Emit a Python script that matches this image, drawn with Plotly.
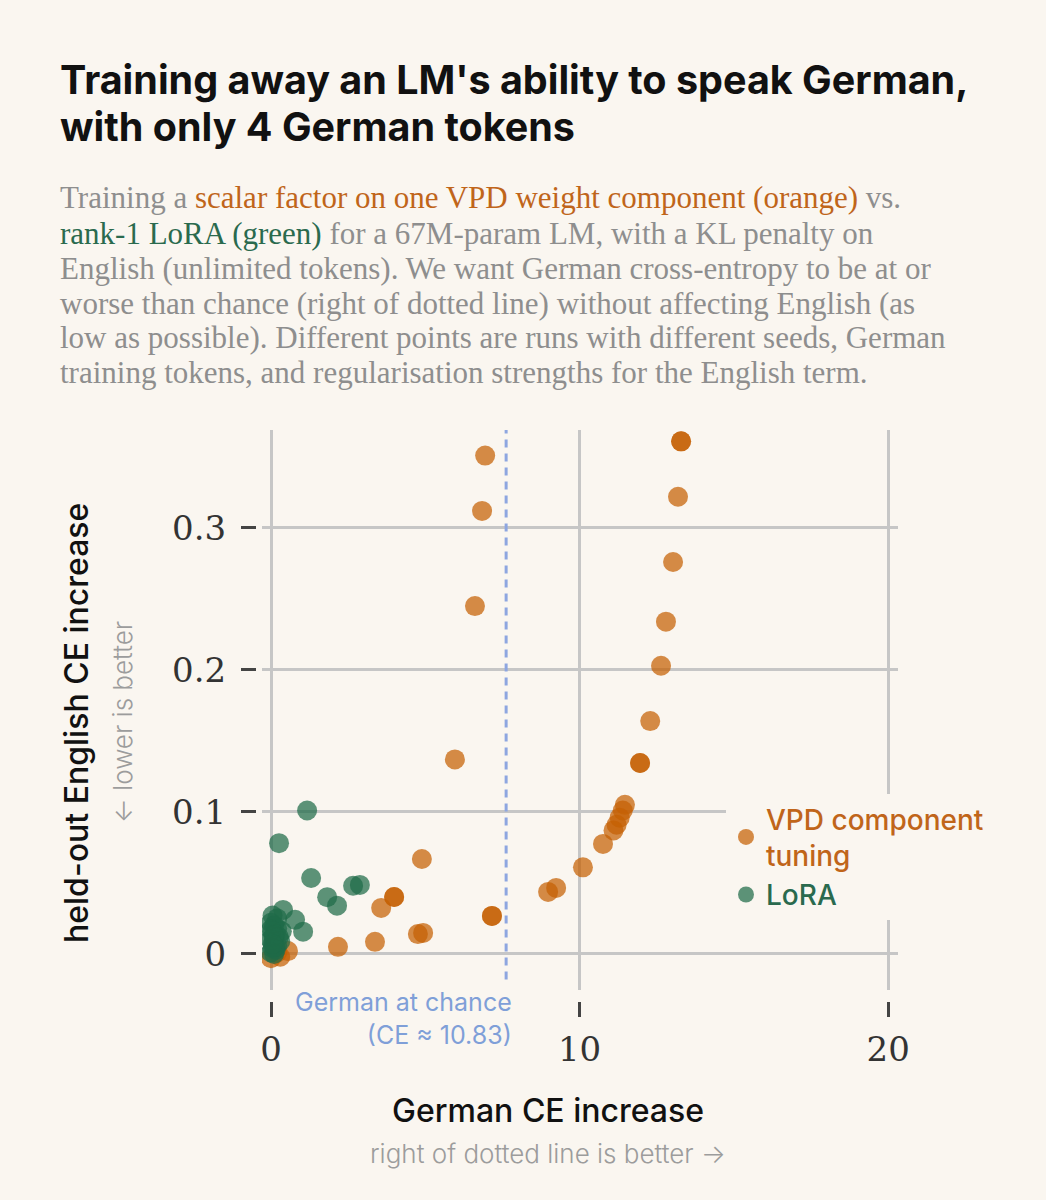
import plotly.graph_objects as go

# ---------------- data ----------------
vpd_x = [6.94, 6.84, 6.61, 5.96, 13.29, 13.29, 13.19, 13.03, 12.80, 12.64, 12.29, 11.96, 11.96,
         11.47, 11.40, 11.30, 11.20, 11.10, 10.76, 10.11, 9.24, 8.98,
         4.89, 3.99, 3.99, 3.57, 7.16, 7.16, 4.76, 4.93, 3.37, 2.17,
         0.0, 0.3, 0.55, 0.2]
vpd_y = [0.351, 0.312, 0.245, 0.137, 0.361, 0.361, 0.322, 0.276, 0.234, 0.203, 0.164, 0.1345, 0.1345,
         0.105, 0.101, 0.096, 0.091, 0.087, 0.0775, 0.061, 0.0465, 0.0437,
         0.0669, 0.0401, 0.0401, 0.0324, 0.0268, 0.0268, 0.014, 0.0148, 0.0085, 0.005,
         -0.003, -0.002, 0.002, 0.001]

lora_x = [1.17, 0.26, 1.30, 1.82, 2.14, 2.66, 2.88, 0.39, 0.78, 1.04, 0.05,
          0.0, 0.1, 0.2, 0.05, 0.15, 0.25, 0.0, 0.1, 0.2, 0.05, 0.15, 0.0, 0.1,
          0.3, 0.35, 0.2, 0.08, 0.12, 0.0, 0.1, 0.05]
lora_y = [0.101, 0.078, 0.0535, 0.040, 0.034, 0.048, 0.0486, 0.031, 0.024, 0.0157, 0.027,
          0.022, 0.020, 0.018, 0.016, 0.014, 0.012, 0.010, 0.008, 0.006, 0.004, 0.003, 0.001, 0.0,
          0.009, 0.016, 0.025, 0.012, 0.005, 0.017, 0.013, 0.007]

chance_x = 7.62          # German CE increase at which German CE reaches chance
chance_label = "German at chance<br>(CE ≈ 10.83)"

x_ticks = [0, 10, 20]
x_tick_text = ["0", "10", "20"]
y_ticks = [0, 0.1, 0.2, 0.3]
y_tick_text = ["0", "0.1", "0.2", "0.3"]

series_names = ["VPD component<br>tuning", "LoRA"]

title_lines = ["Training away an LM's ability to speak German,",
               "with only 4 German tokens"]

# ---------------- styling ----------------
W, H = 1046, 1200
BG = "#faf6f0"
ORANGE = "#c56003"
GREEN = "#1f6b48"
ORANGE_TXT = "#c0651a"
GREEN_TXT = "#2a6a4e"
GRAY_TXT = "#8e8e8e"
BLUE = "#8ea6e0"
GRID = "#c6c6c6"

ML, MR, MT, MB = 200, 148, 430, 150
PW = W - ML - MR
PH = H - MT - MB
PLOT_L, PLOT_B = 262, 990


def px(xp):
    return (xp - ML) / PW


def py(yp):
    return (H - MB - yp) / PH


x_range = [-0.292, 20.32]
y_range = [-0.0254, 0.369]

SANS = "Inter, Noto Sans, sans-serif"
SERIF = "Liberation Serif, serif"
TICKSERIF = "DejaVu Serif, serif"

fig = go.Figure()

fig.add_trace(go.Scatter(
    x=vpd_x, y=vpd_y, mode="markers",
    name=f"<span style='color:{ORANGE_TXT}'>{series_names[0]}</span>",
    marker=dict(size=20, color=ORANGE, opacity=0.72, line=dict(width=0)),
    hoverinfo="x+y"))
fig.add_trace(go.Scatter(
    x=lora_x, y=lora_y, mode="markers",
    name=f"<span style='color:{GREEN_TXT}'>{series_names[1]}</span>",
    marker=dict(size=20, color=GREEN, opacity=0.72, line=dict(width=0)),
    hoverinfo="x+y"))
# dummy trace to render the offset tick axes
fig.add_trace(go.Scatter(x=[], y=[], xaxis="x2", yaxis="y2", showlegend=False,
                         hoverinfo="skip"))

fig.add_shape(type="line", xref="x", yref="y", x0=chance_x, x1=chance_x,
              y0=-0.018, y1=0.369,
              line=dict(color=BLUE, width=3, dash="8px,6px"))

xdom = [(PLOT_L - ML) / PW, 1.0]
ydom = [(H - MB - PLOT_B) / PH, 1.0]

fig.update_layout(
    width=W, height=H,
    paper_bgcolor=BG, plot_bgcolor=BG,
    margin=dict(l=ML, r=MR, t=MT, b=MB),
    showlegend=True,
    xaxis=dict(domain=xdom, range=x_range, tickvals=x_ticks, showticklabels=False,
               showgrid=True, gridcolor=GRID, gridwidth=2.5, zeroline=False,
               showline=False, ticks=""),
    yaxis=dict(domain=ydom, range=y_range, tickvals=y_ticks, showticklabels=False,
               showgrid=True, gridcolor=GRID, gridwidth=2.5, zeroline=False,
               showline=False, ticks=""),
    xaxis2=dict(overlaying="x", anchor="free", position=py(1001), range=x_range,
                tickvals=x_ticks, ticktext=x_tick_text, ticks="outside", ticklen=15,
                tickwidth=2.5, tickcolor="#444", showgrid=False, zeroline=False,
                showline=False, ticklabelstandoff=3,
                tickfont=dict(family=TICKSERIF, size=34, color="#333")),
    yaxis2=dict(overlaying="y", anchor="free", position=px(256), side="left",
                range=y_range, tickvals=y_ticks, ticktext=y_tick_text,
                ticks="outside", ticklen=15, tickwidth=2.5, tickcolor="#444",
                showgrid=False, zeroline=False, showline=False, ticklabelstandoff=8,
                tickfont=dict(family=TICKSERIF, size=34, color="#333")),
    legend=dict(x=px(726), y=py(794), xanchor="left", yanchor="top",
                bgcolor=BG, borderwidth=0, itemsizing="trace",
                font=dict(family=SANS, size=28, weight=500),
                tracegroupgap=10, valign="middle"),
)

ann = []
# title
for t, yy in zip(title_lines, [80, 127]):
    ann.append(dict(text=t, x=px(58), y=py(yy), xanchor="left", yanchor="middle",
                    font=dict(family=SANS, size=39.5, color="#111", weight=700)))

sub_lines = [
    f"Training a <span style='color:{ORANGE_TXT}'>scalar factor on one VPD weight component (orange)</span> vs.",
    f"<span style='color:{GREEN_TXT}'>rank-1 LoRA (green)</span> for a 67M-param LM, with a KL penalty on",
    "English (unlimited tokens). We want German cross-entropy to be at or",
    "worse than chance (right of dotted line) without affecting English (as",
    "low as possible). Different points are runs with different seeds, German",
    "training tokens, and regularisation strengths for the English term.",
]
sub_y = [198, 233, 268, 303, 337, 372]
for t, yy in zip(sub_lines, sub_y):
    ann.append(dict(text=t, x=px(58), y=py(yy), xanchor="left", yanchor="middle",
                    font=dict(family=SERIF, size=31, color=GRAY_TXT)))

# axis titles
ann.append(dict(text="held-out English CE increase", x=px(76), y=py(723), textangle=-90,
                xanchor="center", yanchor="middle",
                font=dict(family=SANS, size=32, color="#111", weight=500)))
ann.append(dict(text="← lower is better", x=px(122), y=py(722), textangle=-90,
                xanchor="center", yanchor="middle",
                font=dict(family=SANS, size=26, color="#9c9c9c", weight=300)))
ann.append(dict(text="German CE increase", x=px(548), y=py(1110),
                xanchor="center", yanchor="middle",
                font=dict(family=SANS, size=32, color="#111", weight=500)))
ann.append(dict(text="right of dotted line is better →", x=px(548), y=py(1153),
                xanchor="center", yanchor="middle",
                font=dict(family=SANS, size=26, color="#9c9c9c", weight=300)))
# chance label
ann.append(dict(text=chance_label, x=px(514), y=py(1018), xanchor="right", yanchor="middle",
                align="right",
                font=dict(family=SANS, size=25, color="#7f9fd8")))

for a in ann:
    a.update(xref="paper", yref="paper", showarrow=False)
fig.update_layout(annotations=ann)

fig.write_html("out.html")
